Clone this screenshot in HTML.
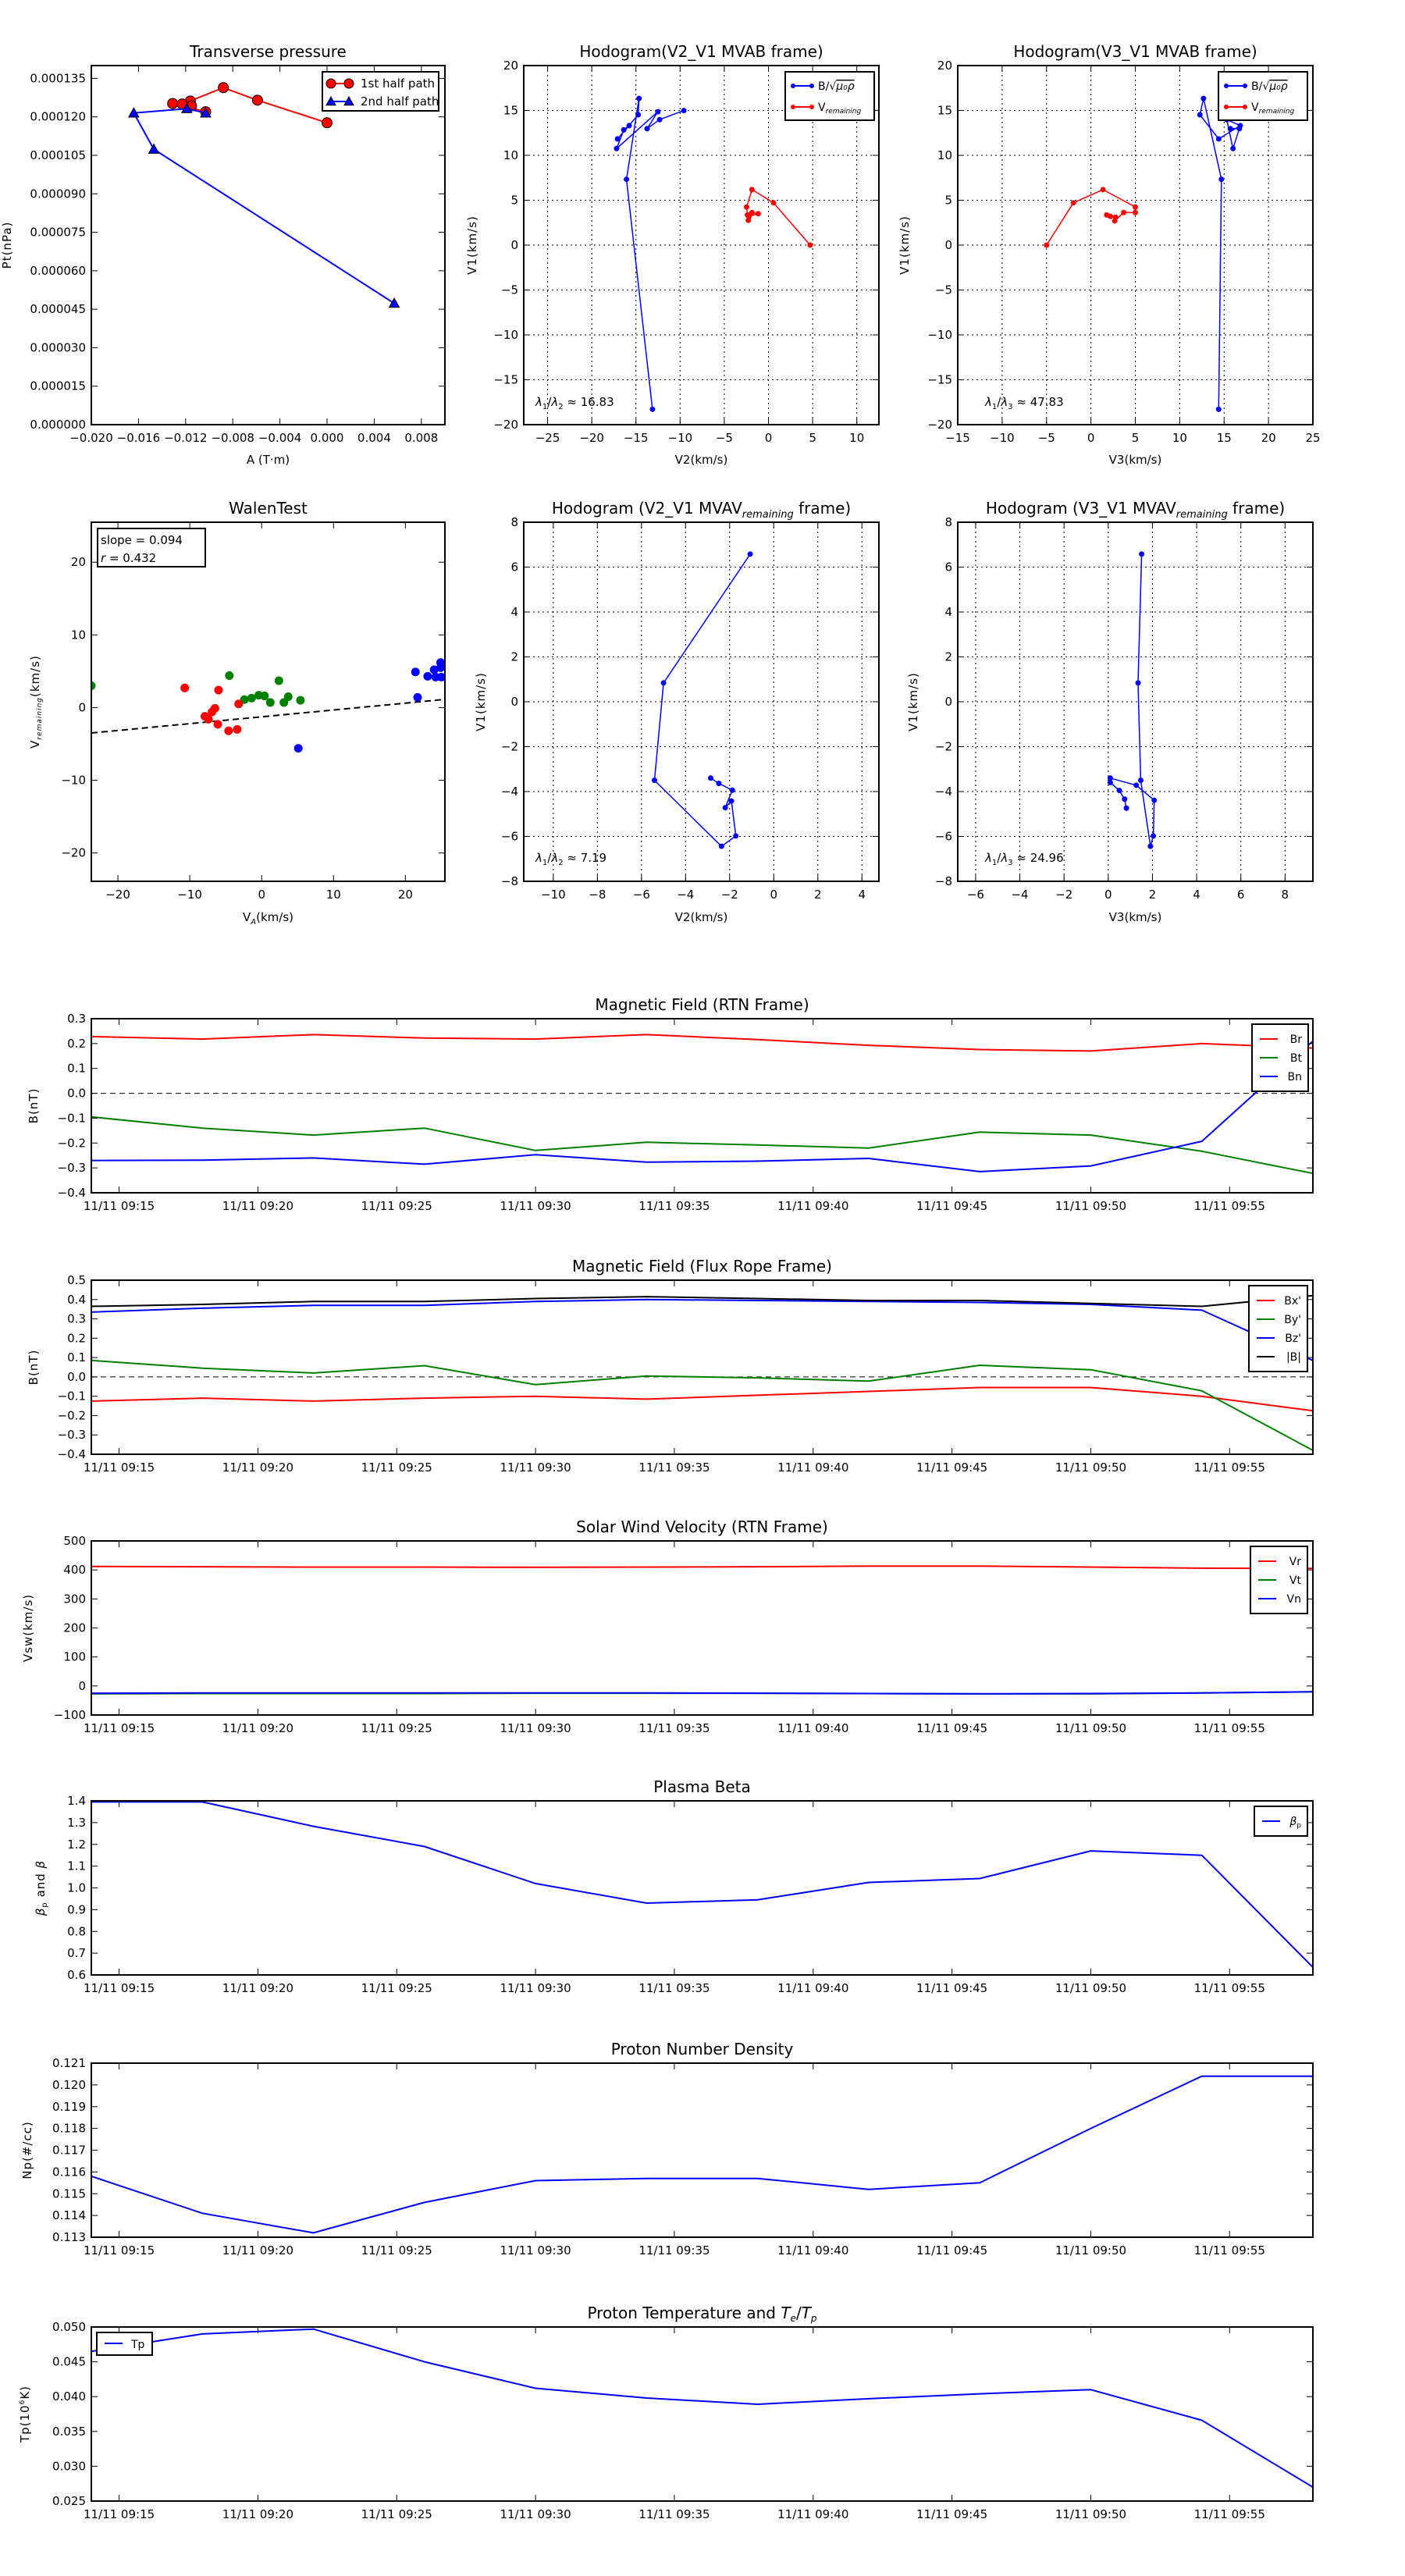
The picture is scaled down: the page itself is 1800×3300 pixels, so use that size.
<!DOCTYPE html>
<html><head><meta charset="utf-8"><title>Flux rope analysis</title>
<style>
html,body{margin:0;padding:0;background:#fff;}
svg{display:block;font-family:"DejaVu Sans","Liberation Sans",sans-serif;}
</style></head>
<body>
<svg id="fig" xmlns="http://www.w3.org/2000/svg" width="1800" height="3300" viewBox="0 0 1800 3300"></svg>
<script>
// ---------- DATA ----------
const ptRedA=[0.0000,-0.0059,-0.0088,-0.0116,-0.0115,-0.0123,-0.0131,-0.0103];
const ptRedP=[0.0001177,0.0001265,0.0001314,0.0001262,0.0001243,0.0001250,0.0001252,0.0001220];
const ptBlueA=[-0.0103,-0.0119,-0.0164,-0.0147,0.0057];
const ptBlueP=[0.0001215,0.0001232,0.0001215,0.0001074,0.0000473];

const h1BV2=[-13.13,-16.07,-14.65,-14.75,-17.09,-15.77,-16.38,-17.19,-12.52,-13.74,-12.32,-9.58];
const h1BV1=[-18.29,7.33,16.34,14.52,11.83,13.31,12.84,10.76,14.86,12.97,13.98,14.99];
const h1VV2=[4.72,0.57,-1.87,-2.48,-2.28,-2.38,-1.87,-1.16,-2.2];
const h1VV1=[0,4.71,6.18,4.24,2.76,3.36,3.63,3.5,3.2];

const h2BV3=[14.39,14.7,12.68,12.27,14.39,16.82,15.3,16.0,16.72,15.7];
const h2BV1=[-18.29,7.33,16.34,14.52,11.83,13.31,13.98,10.76,12.97,12.97];
const h2VV3=[-5,-1.97,1.36,5,5,3.69,2.68,2.78,1.77,2.2];
const h2VV1=[0,4.71,6.18,4.24,3.63,3.63,2.7,3.1,3.36,3.2];

const walenGreenX=[-23.7,-4.5,2.4,-2.4,-1.4,-0.4,0.4,1.2,3.1,3.7,5.4];
const walenGreenY=[3.0,4.4,3.7,1.1,1.3,1.7,1.6,0.7,0.7,1.5,1.0];
const walenRedX=[-10.7,-6.0,-6.5,-6.9,-7.9,-7.4,-6.1,-4.6,-3.4,-3.2];
const walenRedY=[2.7,2.4,-0.1,-0.6,-1.2,-1.6,-2.3,-3.2,-3.0,0.5];
const walenBlueX=[5.1,21.4,21.7,23.1,24.0,24.2,24.9,24.9,25.0];
const walenBlueY=[-5.6,4.9,1.4,4.3,5.2,4.2,6.2,5.5,4.2];
const walenSlope=0.094, walenIntercept=-1.27;

const mv2X=[-1.07,-5.0,-5.41,-2.37,-1.72,-1.92,-2.2,-1.88,-2.49,-2.86];
const mv2Y=[6.58,0.84,-3.5,-6.44,-5.98,-4.42,-4.72,-3.94,-3.64,-3.4];
const mv3X=[1.51,1.35,1.47,1.91,2.04,2.08,1.27,0.09,0.09,0.5,0.74,0.82];
const mv3Y=[6.58,0.84,-3.5,-6.44,-5.98,-4.39,-3.72,-3.4,-3.6,-3.95,-4.34,-4.74];

// time series: minutes after 09:14
const tMin=[0,4,8,12,16,20,24,28,32,36,40,44];
const timeTickLabels=["11/11 09:15","11/11 09:20","11/11 09:25","11/11 09:30","11/11 09:35","11/11 09:40","11/11 09:45","11/11 09:50","11/11 09:55"];
const Br=[0.228,0.218,0.236,0.222,0.218,0.236,0.216,0.193,0.176,0.170,0.200,0.182];
const Bt=[-0.095,-0.14,-0.168,-0.14,-0.23,-0.197,-0.208,-0.22,-0.156,-0.168,-0.233,-0.322];
const Bn=[-0.27,-0.269,-0.26,-0.285,-0.247,-0.277,-0.273,-0.262,-0.315,-0.292,-0.193,0.21];
const Bx=[-0.125,-0.11,-0.125,-0.11,-0.1,-0.115,-0.095,-0.075,-0.055,-0.055,-0.1,-0.175];
const By=[0.085,0.045,0.02,0.058,-0.04,0.005,-0.005,-0.022,0.06,0.037,-0.072,-0.38];
const Bz=[0.335,0.355,0.37,0.37,0.39,0.4,0.395,0.39,0.385,0.375,0.345,0.085];
const Bmag=[0.365,0.375,0.39,0.39,0.405,0.415,0.405,0.395,0.395,0.38,0.365,0.42];
const Vr=[412,411,410,410,409,410,411,413,413,410,406,405];
const Vt=[-27,-26,-26,-26,-25,-25,-25,-26,-27,-27,-24,-20];
const Vn=[-25,-24,-24,-24,-24,-24,-25,-26,-27,-26,-24,-20];
const beta=[1.395,1.395,1.283,1.19,1.02,0.93,0.945,1.025,1.043,1.17,1.15,0.635];
const Np=[0.1158,0.1141,0.1132,0.1146,0.1156,0.1157,0.1157,0.1152,0.1155,0.118,0.1204,0.1204];
const Tp=[0.0465,0.049,0.0497,0.045,0.0412,0.0398,0.0389,0.0397,0.0404,0.041,0.0366,0.027];

// ---------- HELPERS ----------
const NS='http://www.w3.org/2000/svg';
const svg=document.getElementById('fig');
function el(tag,attrs,name,parent){
  const e=document.createElementNS(NS,tag);
  for(const k in attrs) e.setAttribute(k,attrs[k]);
  
  
  (parent||svg).appendChild(e);
  return e;
}
function txt(x,y,s,size,anchor,name,parent,extra){
  const a={x:x,y:y,'font-size':size,'text-anchor':anchor||'middle',fill:'#000'};
  if(extra) for(const k in extra) a[k]=extra[k];
  const t=el('text',a,name,parent);
  t.textContent=s;
  return t;
}
function range(a,b,s){const r=[];for(let v=a;v<=b+1e-9;v+=s)r.push(+v.toFixed(8));return r;}
function fmt(v,d){const s=Math.abs(v).toFixed(d);return (v<-1e-12?'\u2212':'')+s;}

function axes(c){
  const g=el('g',{},c.name);
  const sx=v=>c.x0+(v-c.xmin)/(c.xmax-c.xmin)*c.w;
  const sy=v=>c.y0+c.h-(v-c.ymin)/(c.ymax-c.ymin)*c.h;
  // grid
  if(c.grid){
    c.xticks.forEach(v=>{const x=sx(v);el('line',{x1:x,x2:x,y1:c.y0,y2:c.y0+c.h,stroke:'#000','stroke-width':1,'stroke-dasharray':'2,4'},'x-gridline',g);});
    c.yticks.forEach(v=>{const y=sy(v);el('line',{x1:c.x0,x2:c.x0+c.w,y1:y,y2:y,stroke:'#000','stroke-width':1,'stroke-dasharray':'2,4'},'y-gridline',g);});
  }
  const clipId='clip'+Math.round(c.x0)+'_'+Math.round(c.y0);
  const cp=el('clipPath',{id:clipId},'clip-region',g);
  el('rect',{x:c.x0,y:c.y0,width:c.w,height:c.h},'clip-rect',cp);
  const plot=el('g',{'clip-path':'url(#'+clipId+')'},'plot-area',g);
  // ticks
  c.xticks.forEach((v,i)=>{const x=sx(v);
    el('line',{x1:x,x2:x,y1:c.y0+c.h,y2:c.y0+c.h-8,stroke:'#000','stroke-width':1},'x-tick',g);
    el('line',{x1:x,x2:x,y1:c.y0,y2:c.y0+8,stroke:'#000','stroke-width':1},'x-tick-top',g);
    txt(x,c.y0+c.h+22,c.xlabels?c.xlabels[i]:c.xfmt(v),15,'middle','x-tick-label',g);});
  c.yticks.forEach(v=>{const y=sy(v);
    el('line',{x1:c.x0,x2:c.x0+8,y1:y,y2:y,stroke:'#000','stroke-width':1},'y-tick',g);
    el('line',{x1:c.x0+c.w,x2:c.x0+c.w-8,y1:y,y2:y,stroke:'#000','stroke-width':1},'y-tick-right',g);
    txt(c.x0-7,y+5,c.yfmt(v),15,'end','y-tick-label',g);});
  el('rect',{x:c.x0,y:c.y0,width:c.w,height:c.h,fill:'none',stroke:'#000','stroke-width':2},'axes-frame',g);
  const t=txt(c.x0+c.w/2,c.y0-11,'',20,'middle','chart-title',g);
  if(typeof c.title==='string') t.textContent=c.title; else c.title(t);
  if(c.xlabel){const xl=txt(c.x0+c.w/2,c.xlabelY,'',15,'middle','x-axis-title',g); if(typeof c.xlabel==='string') xl.textContent=c.xlabel; else c.xlabel(xl);}
  if(c.ylabel){const yl=txt(c.ylabelX,c.y0+c.h/2,'',15,'middle','y-axis-title',g,{transform:'rotate(-90 '+c.ylabelX+' '+(c.y0+c.h/2)+')','letter-spacing':'1'}); if(typeof c.ylabel==='string') yl.textContent=c.ylabel; else c.ylabel(yl);}
  return {g,plot,sx,sy};
}
function span(parent,s,extra,name){const t=el('tspan',extra||{},name||'label-part',parent);t.textContent=s;return t;}
function polyline(ax,xs,ys,color,name,w){
  const pts=xs.map((x,i)=>ax.sx(x).toFixed(1)+','+ax.sy(ys[i]).toFixed(1)).join(' ');
  return el('polyline',{points:pts,fill:'none',stroke:color,'stroke-width':w||2,'stroke-linejoin':'round'},name,ax.plot);
}
function dots(ax,xs,ys,color,r,name,stroke){
  xs.forEach((x,i)=>{el('circle',{cx:ax.sx(x),cy:ax.sy(ys[i]),r:r,fill:color,stroke:stroke||color,'stroke-width':1},name,ax.plot);});
}
function tri(parent,x,y,s,color,name){
  el('polygon',{points:`${x},${y-s} ${x-s},${y+s*0.8} ${x+s},${y+s*0.8}`,fill:color,stroke:'#000','stroke-width':1},name,parent);
}
function legendBox(parent,x,y,w,h,name){return el('rect',{x:x,y:y,width:w,height:h,fill:'#fff',stroke:'#000','stroke-width':2},name,parent);}

// ---------- ROW 1 ----------
// Transverse pressure
let ax=axes({name:'transverse-pressure-chart',x0:117,y0:84,w:453,h:460,xmin:-0.02,xmax:0.01,ymin:0,ymax:0.00014,
  xticks:range(-0.02,0.008,0.004),yticks:range(0,0.000135,0.000015),xfmt:v=>fmt(v,3),yfmt:v=>fmt(v,6),
  title:'Transverse pressure',xlabel:'A (T\u00b7m)',xlabelY:594,ylabel:'Pt(nPa)',ylabelX:14});
polyline(ax,ptRedA,ptRedP,'#f00','first-half-path-line');
ptRedA.forEach((a,i)=>{el('circle',{cx:ax.sx(a),cy:ax.sy(ptRedP[i]),r:6.5,fill:'#f00',stroke:'#000','stroke-width':1},'first-half-point',ax.plot);});
polyline(ax,ptBlueA,ptBlueP,'#00f','second-half-path-line');
ptBlueA.forEach((a,i)=>{tri(ax.plot,ax.sx(a),ax.sy(ptBlueP[i]),6.5,'#00f','second-half-point');});
{const lg=el('g',{},'pressure-legend',ax.g);legendBox(lg,413,92,149,50,'legend-box');
 el('line',{x1:424,x2:447,y1:107,y2:107,stroke:'#f00','stroke-width':2},'legend-line',lg);
 el('circle',{cx:424,cy:107,r:6,fill:'#f00',stroke:'#000'},'legend-marker',lg);
 el('circle',{cx:447,cy:107,r:6,fill:'#f00',stroke:'#000'},'legend-marker',lg);
 txt(462,112,'1st half path',15,'start','legend-entry',lg);
 el('line',{x1:424,x2:447,y1:130,y2:130,stroke:'#00f','stroke-width':2},'legend-line',lg);
 tri(lg,424,130,6,'#00f','legend-marker');tri(lg,447,130,6,'#00f','legend-marker');
 txt(462,135,'2nd half path',15,'start','legend-entry',lg);}

function hodoLegend(parent,x,y,name){
  const lg=el('g',{},name,parent);legendBox(lg,x,y,114,62,'legend-box');
  el('line',{x1:x+10,x2:x+34,y1:y+18,y2:y+18,stroke:'#00f','stroke-width':2},'legend-line',lg);
  el('circle',{cx:x+10,cy:y+18,r:3,fill:'#00f'},'legend-marker',lg);el('circle',{cx:x+34,cy:y+18,r:3,fill:'#00f'},'legend-marker',lg);
  const t1=txt(x+42,y+23,'',14,'start','legend-entry-b',lg);span(t1,'B/\u221a');span(t1,'\u03bc\u2080\u03c1',{'font-style':'italic','text-decoration':'overline'});
  el('line',{x1:x+10,x2:x+34,y1:y+45,y2:y+45,stroke:'#f00','stroke-width':2},'legend-line',lg);
  el('circle',{cx:x+10,cy:y+45,r:3,fill:'#f00'},'legend-marker',lg);el('circle',{cx:x+34,cy:y+45,r:3,fill:'#f00'},'legend-marker',lg);
  const t2=txt(x+42,y+50,'',14,'start','legend-entry-v',lg);span(t2,'V');span(t2,'remaining',{'font-size':9,'font-style':'italic','dy':3});
}
function lamText(parent,x,y,a,b,val){const t=txt(x,y,'',15,'start','eigenvalue-ratio',parent);
  span(t,'\u03bb',{'font-style':'italic'});span(t,a,{'font-size':10,dy:4});span(t,'/',{dy:-4});span(t,'\u03bb',{'font-style':'italic'});span(t,b,{'font-size':10,dy:4});span(t,' \u2248 '+val,{dy:-4});}

ax=axes({name:'hodogram-v2-v1-mvab',x0:671,y0:84,w:455,h:460,xmin:-27.7,xmax:12.5,ymin:-20,ymax:20,grid:true,
  xticks:range(-25,10,5),yticks:range(-20,20,5),xfmt:v=>fmt(v,0),yfmt:v=>fmt(v,0),
  title:'Hodogram(V2_V1 MVAB frame)',xlabel:'V2(km/s)',xlabelY:594,ylabel:'V1(km/s)',ylabelX:610});
polyline(ax,h1BV2,h1BV1,'#00f','b-hodogram-line',1.5);dots(ax,h1BV2,h1BV1,'#00f',3,'b-hodogram-point');
polyline(ax,h1VV2,h1VV1,'#f00','v-hodogram-line',1.5);dots(ax,h1VV2,h1VV1,'#f00',3,'v-hodogram-point');
hodoLegend(ax.g,1006,92,'hodogram-legend');lamText(ax.g,686,520,'1','2','16.83');

ax=axes({name:'hodogram-v3-v1-mvab',x0:1227,y0:84,w:455,h:460,xmin:-15,xmax:25,ymin:-20,ymax:20,grid:true,
  xticks:range(-15,25,5),yticks:range(-20,20,5),xfmt:v=>fmt(v,0),yfmt:v=>fmt(v,0),
  title:'Hodogram(V3_V1 MVAB frame)',xlabel:'V3(km/s)',xlabelY:594,ylabel:'V1(km/s)',ylabelX:1164});
polyline(ax,h2BV3,h2BV1,'#00f','b-hodogram-line',1.5);dots(ax,h2BV3,h2BV1,'#00f',3,'b-hodogram-point');
polyline(ax,h2VV3,h2VV1,'#f00','v-hodogram-line',1.5);dots(ax,h2VV3,h2VV1,'#f00',3,'v-hodogram-point');
hodoLegend(ax.g,1561,92,'hodogram-legend');lamText(ax.g,1262,520,'1','3','47.83');

// ---------- ROW 2 ----------
ax=axes({name:'walen-test-chart',x0:117,y0:669,w:453,h:460,xmin:-23.7,xmax:25.5,ymin:-23.9,ymax:25.5,
  xticks:range(-20,20,10),yticks:range(-20,20,10),xfmt:v=>fmt(v,0),yfmt:v=>fmt(v,0),
  title:'WalenTest',xlabelY:1180,ylabelX:50,
  xlabel:t=>{span(t,'V');span(t,'A',{'font-size':10,'font-style':'italic',dy:4});span(t,'(km/s)',{dy:-4});},
  ylabel:t=>{span(t,'V');span(t,'remaining',{'font-size':9,'font-style':'italic',dy:3});span(t,'(km/s)',{dy:-3});}});
el('line',{x1:ax.sx(-23.7),y1:ax.sy(walenSlope*-23.7+walenIntercept),x2:ax.sx(25.5),y2:ax.sy(walenSlope*25.5+walenIntercept),stroke:'#000','stroke-width':2,'stroke-dasharray':'8,5'},'regression-line',ax.plot);
dots(ax,walenGreenX,walenGreenY,'#008000',5,'walen-point-green');
dots(ax,walenRedX,walenRedY,'#f00',5,'walen-point-red');
dots(ax,walenBlueX,walenBlueY,'#00f',5,'walen-point-blue');
{const lg=el('g',{},'walen-stats-box',ax.g);legendBox(lg,125,677,138,49,'stats-box');
 txt(129,697,'slope = '+walenSlope.toFixed(3),15,'start','slope-label',lg);
 const r=txt(129,720,'',15,'start','correlation-label',lg);span(r,'r',{'font-style':'italic'});span(r,' = 0.432');}

ax=axes({name:'hodogram-v2-v1-mvav',x0:671,y0:669,w:455,h:460,xmin:-11.34,xmax:4.77,ymin:-8,ymax:8,grid:true,
  xticks:range(-10,4,2),yticks:range(-8,8,2),xfmt:v=>fmt(v,0),yfmt:v=>fmt(v,0),
  title:t=>{span(t,'Hodogram (V2_V1 MVAV');span(t,'remaining',{'font-size':13,'font-style':'italic',dy:5});span(t,' frame)',{dy:-5});},
  xlabel:'V2(km/s)',xlabelY:1180,ylabel:'V1(km/s)',ylabelX:621});
polyline(ax,mv2X,mv2Y,'#00f','v-hodogram-line',1.5);dots(ax,mv2X,mv2Y,'#00f',3,'v-hodogram-point');
lamText(ax.g,686,1104,'1','2','7.19');

ax=axes({name:'hodogram-v3-v1-mvav',x0:1227,y0:669,w:455,h:460,xmin:-6.81,xmax:9.26,ymin:-8,ymax:8,grid:true,
  xticks:range(-6,8,2),yticks:range(-8,8,2),xfmt:v=>fmt(v,0),yfmt:v=>fmt(v,0),
  title:t=>{span(t,'Hodogram (V3_V1 MVAV');span(t,'remaining',{'font-size':13,'font-style':'italic',dy:5});span(t,' frame)',{dy:-5});},
  xlabel:'V3(km/s)',xlabelY:1180,ylabel:'V1(km/s)',ylabelX:1175});
polyline(ax,mv3X,mv3Y,'#00f','v-hodogram-line',1.5);dots(ax,mv3X,mv3Y,'#00f',3,'v-hodogram-point');
lamText(ax.g,1262,1104,'1','3','24.96');

// ---------- TIME SERIES ----------
const tTicks=range(1,41,5);
function tsAxes(name,y0,ymin,ymax,yticks,dec,title,ylabel,ylabelX){
  return axes({name:name,x0:117,y0:y0,w:1565,h:223,xmin:0,xmax:44,ymin:ymin,ymax:ymax,
    xticks:tTicks,xlabels:timeTickLabels,yticks:yticks,xfmt:v=>v,yfmt:v=>fmt(v,dec),
    title:title,ylabel:ylabel,ylabelX:ylabelX});
}
function tsLegend(parent,x,y,w,names,colors,name){
  const lg=el('g',{},name,parent);legendBox(lg,x,y,w,names.length*24+14,'legend-box');
  names.forEach((n,i)=>{const yy=y+19+i*24;
    el('line',{x1:x+10,x2:x+33,y1:yy,y2:yy,stroke:colors[i],'stroke-width':2},'legend-line',lg);
    if(typeof n==='string') txt(x+w-8,yy+5,n,14,'end','legend-entry',lg); else n(txt(x+w-8,yy+5,'',14,'end','legend-entry',lg));});
}
function zeroLine(a){el('line',{x1:a.sx(0),x2:a.sx(44),y1:a.sy(0),y2:a.sy(0),stroke:'#000','stroke-width':1,'stroke-dasharray':'7,5'},'zero-line',a.plot);}

ax=tsAxes('magnetic-field-rtn-chart',1305,-0.4,0.3,range(-0.4,0.3,0.1),1,'Magnetic Field (RTN Frame)','B(nT)',48);
zeroLine(ax);
polyline(ax,tMin,Br,'#f00','br-line');polyline(ax,tMin,Bt,'#008000','bt-line');polyline(ax,tMin,Bn,'#00f','bn-line');
tsLegend(ax.g,1604,1312,72,['Br','Bt','Bn'],['#f00','#008000','#00f'],'rtn-b-legend');

ax=tsAxes('magnetic-field-flux-rope-chart',1640,-0.4,0.5,range(-0.4,0.5,0.1),1,'Magnetic Field (Flux Rope Frame)','B(nT)',48);
zeroLine(ax);
polyline(ax,tMin,Bx,'#f00','bx-line');polyline(ax,tMin,By,'#008000','by-line');polyline(ax,tMin,Bz,'#00f','bz-line');polyline(ax,tMin,Bmag,'#000','bmag-line');
tsLegend(ax.g,1600,1647,75,["Bx'","By'","Bz'","|B|"],['#f00','#008000','#00f','#000'],'flux-rope-legend');

ax=tsAxes('solar-wind-velocity-chart',1974,-100,500,range(-100,500,100),0,'Solar Wind Velocity (RTN Frame)','Vsw(km/s)',41);
polyline(ax,tMin,Vr,'#f00','vr-line');polyline(ax,tMin,Vt,'#008000','vt-line');polyline(ax,tMin,Vn,'#00f','vn-line');
tsLegend(ax.g,1602,1981,73,['Vr','Vt','Vn'],['#f00','#008000','#00f'],'velocity-legend');

ax=tsAxes('plasma-beta-chart',2307,0.6,1.4,range(0.6,1.4,0.1),1,'Plasma Beta',
  t=>{span(t,'\u03b2',{'font-style':'italic'});span(t,'p',{'font-size':10,dy:3});span(t,' and ',{dy:-3});span(t,'\u03b2',{'font-style':'italic'});},57);
polyline(ax,tMin,beta,'#00f','beta-line');
tsLegend(ax.g,1607,2314,68,[t=>{span(t,'\u03b2',{'font-style':'italic'});span(t,'p',{'font-size':9,dy:3});}],['#00f'],'beta-legend');

ax=tsAxes('proton-density-chart',2643,0.113,0.121,range(0.113,0.121,0.001),3,'Proton Number Density','Np(#/cc)',40);
polyline(ax,tMin,Np,'#00f','np-line');

ax=tsAxes('proton-temperature-chart',2981,0.025,0.05,range(0.025,0.05,0.005),3,
  t=>{span(t,'Proton Temperature and ');span(t,'T',{'font-style':'italic'});span(t,'e',{'font-size':12,'font-style':'italic',dy:4});span(t,'/',{dy:-4});span(t,'T',{'font-style':'italic'});span(t,'p',{'font-size':12,'font-style':'italic',dy:4});},
  t=>{span(t,'Tp(10');span(t,'6',{'font-size':9,dy:-6});span(t,'K)',{dy:6});},37);
polyline(ax,tMin,Tp,'#00f','tp-line');
{const lg=el('g',{},'temperature-legend',ax.g);legendBox(lg,124,2988,71,29,'legend-box');
 el('line',{x1:134,x2:157,y1:3002,y2:3002,stroke:'#00f','stroke-width':2},'legend-line',lg);
 txt(168,3008,'Tp',14,'start','legend-entry',lg);}
</script>
</body></html>
